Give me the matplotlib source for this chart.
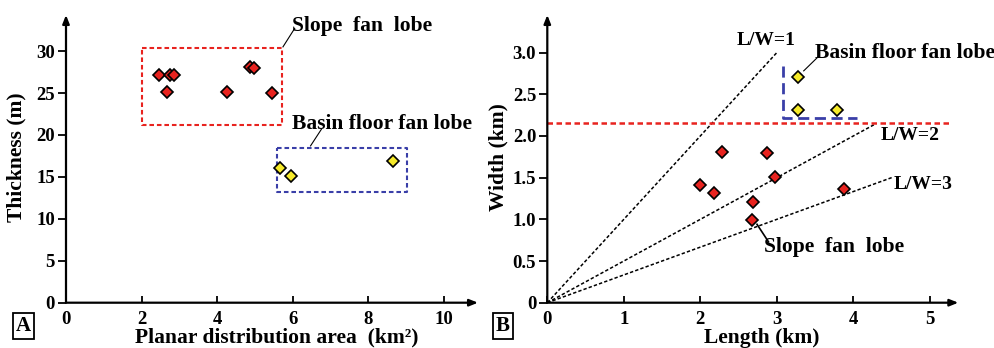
import numpy as np
import matplotlib
matplotlib.use("Agg")
import matplotlib.pyplot as plt

plt.rcParams['font.family'] = ['Liberation Serif', 'DejaVu Serif']
plt.rcParams['font.weight'] = 'bold'

# Panel A: planar distribution area (km2) vs thickness (m)
slope_area = [2.45, 2.68, 2.76, 2.86, 4.25, 4.86, 4.97, 5.46]
slope_thick = [27.1, 25.1, 27.1, 27.1, 25.1, 28.1, 28.0, 25.0]
basin_area = [5.66, 5.96, 8.65]
basin_thick = [16.0, 15.1, 16.9]

# Panel B: length (km) vs width (km)
slope_len = [2.28, 2.87, 1.99, 2.18, 2.98, 2.69, 2.68, 3.88]
slope_wid = [1.81, 1.79, 1.41, 1.31, 1.51, 1.21, 0.99, 1.36]
basin_len = [3.28, 3.28, 3.78]
basin_wid = [2.71, 2.31, 2.31]

lw_ratios = [1, 2, 3]
lw_end_len = [3.0, 4.28, 4.5]
width_cutoff = 2.15

RED = '#e8231f'
YEL = '#f6ea2a'
BLUE = '#3a3fa8'
DASH = (0, (2.2, 1.4))

fig = plt.figure(figsize=(9.95, 3.48), dpi=100)
axA = fig.add_axes([66 / 995, 45.3 / 348, 412 / 995, 287.7 / 348])
axB = fig.add_axes([547.3 / 995, 45.3 / 348, 411 / 995, 287.7 / 348])


def style_axes(ax, xmax, ymax):
    ax.set_xlim(0, xmax)
    ax.set_ylim(0, ymax)
    for s in ax.spines.values():
        s.set_visible(False)
    ax.annotate('', xy=(1, 0), xytext=(0, 0), xycoords='axes fraction',
                arrowprops=dict(arrowstyle='-|>,head_length=0.5,head_width=0.2', lw=1.6, color='k',
                                shrinkA=0, shrinkB=0))
    ax.annotate('', xy=(0, 1), xytext=(0, 0), xycoords='axes fraction',
                arrowprops=dict(arrowstyle='-|>,head_length=0.5,head_width=0.2', lw=1.6, color='k',
                                shrinkA=0, shrinkB=0))
    ax.tick_params(axis='x', direction='in', length=5, width=1.3, labelsize=13.5, pad=6)
    ax.tick_params(axis='y', direction='out', length=6, width=1.3, labelsize=13.5, pad=2)


# ---- Panel A ----
style_axes(axA, 10.9, 34.3)
axA.set_xticks([0, 2, 4, 6, 8, 10])
axA.set_yticks([0, 5, 10, 15, 20, 25, 30])
axA.set_xticklabels(['0', '2', '4', '6', '8', '10'], fontweight='bold')
axA.set_yticklabels(['0', '5', '10', '15', '20', '25', '30'], fontweight='bold')

axA.plot([2.0, 5.71, 5.71, 2.0, 2.0], [30.4, 30.4, 21.2, 21.2, 30.4], color=RED, lw=1.5, ls=DASH)
axA.plot([5.57, 9.03, 9.03, 5.57, 5.57], [18.5, 18.5, 13.2, 13.2, 18.5], color=BLUE, lw=1.5, ls=DASH)

axA.plot(slope_area, slope_thick, 'D', ms=6.3, mfc=RED, mec='k', mew=1.2, clip_on=False)
axA.plot(basin_area, basin_thick, 'D', ms=6.3, mfc=YEL, mec='k', mew=1.2, clip_on=False)

axA.plot([5.74, 6.05], [30.5, 32.7], color='k', lw=0.8)
axA.text(5.97, 33.0, 'Slope  fan  lobe', fontsize=15.5, fontweight='bold', ha='left', va='center')
axA.plot([6.47, 6.76], [18.7, 20.7], color='k', lw=0.8)
axA.text(5.97, 21.3, 'Basin floor fan lobe', fontsize=15.5, fontweight='bold', ha='left', va='center')

# ---- Panel B ----
style_axes(axB, 5.37, 3.45)
axB.set_xticks([0, 1, 2, 3, 4, 5])
axB.set_yticks([0, 0.5, 1.0, 1.5, 2.0, 2.5, 3.0])
axB.set_xticklabels(['0', '1', '2', '3', '4', '5'], fontweight='bold')
axB.set_yticklabels(['0', '0.5', '1.0', '1.5', '2.0', '2.5', '3.0'], fontweight='bold')

for r, L in zip(lw_ratios, lw_end_len):
    axB.plot([0, L], [0, L / r], color='k', lw=1.1, ls=DASH)

axB.axhline(width_cutoff, xmin=0, xmax=5.27 / 5.37, color=RED, lw=1.8, ls=DASH)
axB.plot([3.08, 3.08, 4.04], [2.84, 2.21, 2.21], color=BLUE, lw=2.0, ls=(0, (4, 2)))

axB.plot(slope_len, slope_wid, 'D', ms=6.3, mfc=RED, mec='k', mew=1.2, clip_on=False)
axB.plot(basin_len, basin_wid, 'D', ms=6.3, mfc=YEL, mec='k', mew=1.2, clip_on=False)

axB.text(2.86, 3.15, 'L/W=1', fontsize=14, fontweight='bold', ha='center', va='center')
axB.text(4.35, 2.01, 'L/W=2', fontsize=14, fontweight='bold', ha='left', va='center')
axB.text(4.53, 1.42, 'L/W=3', fontsize=14, fontweight='bold', ha='left', va='center')
axB.plot([3.35, 3.54], [2.78, 2.95], color='k', lw=0.8)
axB.text(3.50, 2.99, 'Basin floor fan lobe', fontsize=15.5, fontweight='bold', ha='left', va='center')
axB.plot([2.74, 2.89], [0.94, 0.73], color='k', lw=1.2)
axB.text(2.83, 0.67, 'Slope  fan  lobe', fontsize=15.5, fontweight='bold', ha='left', va='center')

# axis labels
fig.text(0.278, 0.029, 'Planar distribution area  (km²)', fontsize=15.5, fontweight='bold',
         ha='center', va='center')
fig.text(0.017, 0.549, 'Thickness (m)', fontsize=15.5, fontweight='bold', rotation=90,
         ha='center', va='center')
fig.text(0.766, 0.029, 'Length (km)', fontsize=15.5, fontweight='bold', ha='center', va='center')
fig.text(0.5005, 0.549, 'Width (km)', fontsize=15.5, fontweight='bold', rotation=90,
         ha='center', va='center')

box = dict(boxstyle='square,pad=0.15', fc='white', ec='k', lw=1.3)
fig.text(23.5 / 995, 1 - 326 / 348, 'A', fontsize=15, fontweight='bold', ha='center', va='center', bbox=box)
fig.text(503 / 995, 1 - 326 / 348, 'B', fontsize=15, fontweight='bold', ha='center', va='center', bbox=box)

fig.savefig('out.png', dpi=100)
